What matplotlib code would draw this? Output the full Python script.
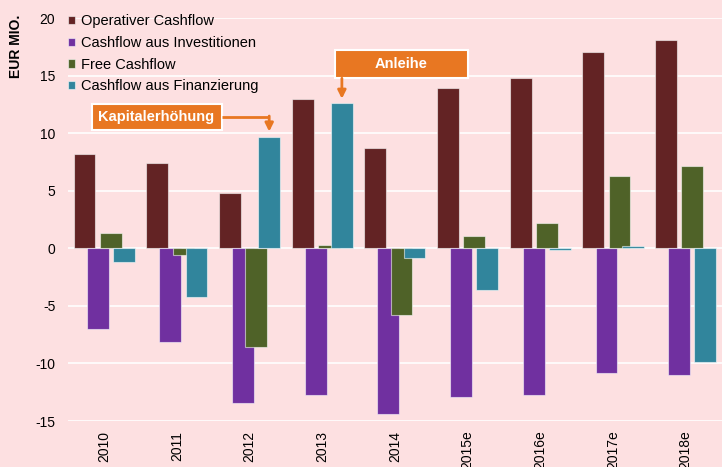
import numpy as np
import matplotlib
matplotlib.use("Agg")
import matplotlib.pyplot as plt
from matplotlib.patches import Rectangle

plt.rcParams['font.family'] = ['Liberation Sans', 'DejaVu Sans']

years = ['2010', '2011', '2012', '2013', '2014', '2015e', '2016e', '2017e', '2018e']
operativ = [8.2, 7.4, 4.8, 13.0, 8.7, 13.9, 14.8, 17.1, 18.1]
invest = [-7.0, -8.1, -13.4, -12.7, -14.4, -12.9, -12.7, -10.8, -11.0]
free_cf = [1.3, -0.6, -8.6, 0.3, -5.8, 1.1, 2.2, 6.3, 7.2]
finanz = [-1.2, -4.2, 9.7, 12.6, -0.8, -3.6, -0.1, 0.2, -9.9]

names = ['Operativer Cashflow', 'Cashflow aus Investitionen', 'Free Cashflow',
         'Cashflow aus Finanzierung']
colors = ['#632324', '#7030a0', '#4f6228', '#31859c']
bg = '#fde0e1'
orange = '#e87722'

fig = plt.figure(figsize=(7.22, 4.67), dpi=100, facecolor=bg)
ax = fig.add_axes([0.094, 0.0985, 0.906, 0.8625], facecolor=bg)

x = np.arange(len(years))
step = 0.18
width = 0.30
for i, (vals, name, c) in enumerate(zip([operativ, invest, free_cf, finanz], names, colors)):
    ax.bar(x + (i - 1.5) * step, vals, width, color=c, label=name,
           edgecolor=(1, 1, 1, 0.55), linewidth=0.8, zorder=3 + i)

ax.set_xlim(-0.5, 8.5)
ax.set_ylim(-15, 20)
ax.set_yticks([-15, -10, -5, 0, 5, 10, 15, 20])
ax.set_yticklabels(['-15', '-10', '-5', '0', '5', '10', '15', '20'])
ax.grid(axis='y', color='white', linewidth=1.2, zorder=0)
ax.set_xticks(x)
ax.set_xticklabels(years, rotation=90, va='top', ha='center')
ax.tick_params(axis='both', length=0, labelsize=10, colors='#000000')
ax.tick_params(axis='x', pad=7)
ax.tick_params(axis='y', pad=9)
for s in ax.spines.values():
    s.set_visible(False)

fig.text(0.022, 0.9, 'EUR MIO.', rotation=90, fontsize=10, fontweight='bold',
         ha='center', va='center')

leg = ax.legend(loc='upper left', bbox_to_anchor=(-0.02, 1.042), frameon=False,
                fontsize=10.5, handlelength=0.5, handleheight=0.5, handletextpad=0.4,
                labelspacing=0.52)

# annotation boxes
ax.add_patch(Rectangle((-0.172, 10.26), 1.79, 2.26, facecolor=orange,
                       edgecolor='white', linewidth=1.5, zorder=10))
ax.text(0.72, 11.39, 'Kapitalerhöhung', color='white', fontsize=10.5, fontweight='bold',
        ha='center', va='center', zorder=11)
ax.plot([1.62, 2.27], [11.4, 11.4], color=orange, linewidth=2, zorder=10,
        solid_capstyle='butt')
ax.annotate('', xy=(2.27, 10.15), xytext=(2.27, 11.5),
            arrowprops=dict(arrowstyle='-|>', color=orange, lw=2, mutation_scale=12,
                            shrinkA=0, shrinkB=0), zorder=10)

ax.add_patch(Rectangle((3.175, 14.78), 1.83, 2.44, facecolor=orange,
                       edgecolor='white', linewidth=1.5, zorder=10))
ax.text(4.09, 16.0, 'Anleihe', color='white', fontsize=10.5, fontweight='bold',
        ha='center', va='center', zorder=11)
ax.annotate('', xy=(3.27, 13.0), xytext=(3.27, 14.78),
            arrowprops=dict(arrowstyle='-|>', color=orange, lw=2, mutation_scale=12,
                            shrinkA=0, shrinkB=0), zorder=10)

fig.savefig('out.png', dpi=100, facecolor=bg)
